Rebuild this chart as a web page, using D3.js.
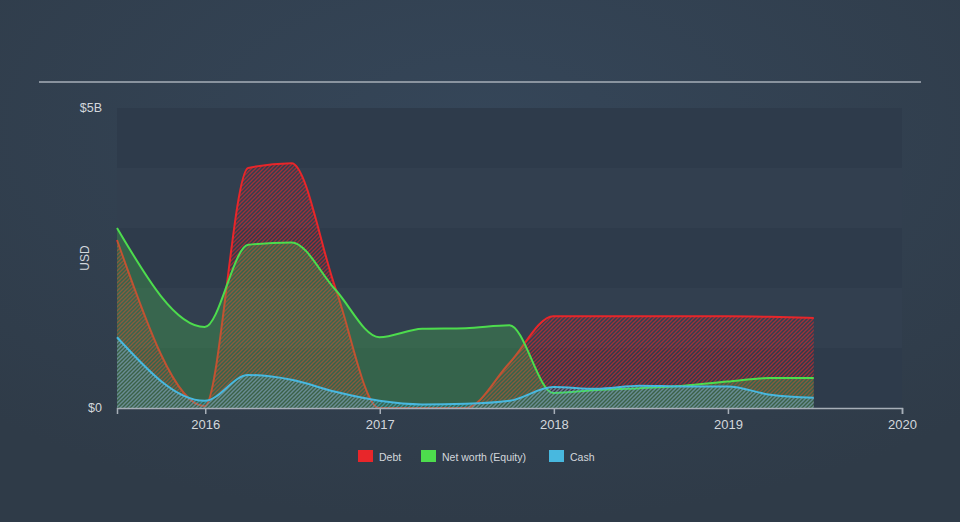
<!DOCTYPE html>
<html>
<head>
<meta charset="utf-8">
<script src="https://cdn.jsdelivr.net/npm/d3@7/dist/d3.min.js"></script>
<style>
html,body{margin:0;padding:0;background:#334253;}
svg{display:block;font-family:Arial,"Liberation Sans",sans-serif;}
</style>
</head>
<body>
<svg id="chart" width="960" height="522"></svg>
<script>
// ---- data ----
const dates = ["2015-06-30","2015-12-31","2016-03-31","2016-06-30","2016-09-30","2016-12-31","2017-03-31","2017-06-30","2017-09-30","2017-12-31","2018-03-31","2018-06-30","2018-09-30","2018-12-31","2019-03-31","2019-06-30"];
const debt   = [2.8, 0.03, 4.0, 4.08, 2.0, 0, 0, 0, 0.75, 1.53, 1.53, 1.53, 1.53, 1.53, 1.52, 1.50];
const equity = [3.0, 1.35, 2.72, 2.76, 1.97, 1.18, 1.32, 1.33, 1.38, 0.25, 0.3, 0.33, 0.37, 0.44, 0.5, 0.5];
const cash   = [1.18, 0.12, 0.55, 0.47, 0.27, 0.12, 0.06, 0.07, 0.12, 0.35, 0.32, 0.37, 0.36, 0.36, 0.22, 0.17];
const xTicks = ["2016","2017","2018","2019","2020"];
const yTickLabels = ["$0","$5B"];
const yTickValues = [0, 5];
const seriesNames = ["Debt","Net worth (Equity)","Cash"];
const seriesColors = ["#e8262a","#4ddc4d","#48b8df"];

const svg = d3.select("#chart");
const W = 960, H = 522;
const margin = {left:117, right:58, top:108, bottom:114};
const parse = d3.timeParse("%Y-%m-%d");

// background
const defs = svg.append("defs");
const rg = defs.append("radialGradient").attr("id","bg").attr("cx","50%").attr("cy","25%").attr("r","75%");
rg.append("stop").attr("offset","0%").attr("stop-color","#354659");
rg.append("stop").attr("offset","100%").attr("stop-color","#2f3b48");
svg.append("rect").attr("width",W).attr("height",H).attr("fill","url(#bg)");

function hatch(id, color, op){
  const p = defs.append("pattern").attr("id",id).attr("patternUnits","userSpaceOnUse")
    .attr("width",4).attr("height",4);
  p.append("path").attr("d","M-1,1 L1,-1 M0,4 L4,0 M3,5 L5,3")
    .attr("stroke",color).attr("stroke-width",1.3).attr("stroke-opacity",op).attr("fill","none");
}
hatch("hDebt", seriesColors[0], 0.6);
hatch("hCash", seriesColors[2], 0.55);

const x = d3.scaleTime().domain([parse("2015-06-30"), parse("2020-01-01")]).range([margin.left, W-margin.right]);
const y = d3.scaleLinear().domain([0,5]).range([H-margin.bottom, margin.top]);

// top rule
svg.append("line").attr("x1",39).attr("x2",921).attr("y1",82).attr("y2",82)
  .attr("stroke","#a7afb8").attr("stroke-width",1.5);

// bands
d3.range(0,5).forEach(i=>{
  svg.append("rect").attr("x",x.range()[0]).attr("width",x.range()[1]-x.range()[0])
    .attr("y",y(i+1)).attr("height",y(i)-y(i+1))
    .attr("fill", i%2===0 ? "#2e3b4b" : "#323f4f");
});

const data = dates.map((d,i)=>({date:parse(d), debt:debt[i], equity:equity[i], cash:cash[i]}));
const curve = d3.curveMonotoneX;

function drawSeries(key, fill, stroke, fillOpacity){
  const area = d3.area().x(d=>x(d.date)).y0(y(0)).y1(d=>y(d[key])).curve(curve);
  const line = d3.line().x(d=>x(d.date)).y(d=>y(d[key])).curve(curve);
  svg.append("path").datum(data).attr("d",area).attr("fill",fill).attr("fill-opacity",fillOpacity);
  svg.append("path").datum(data).attr("d",line).attr("fill","none").attr("stroke",stroke).attr("stroke-width",2);
}
drawSeries("debt","url(#hDebt)",seriesColors[0],1);
drawSeries("equity",seriesColors[1],seriesColors[1],0.25);
drawSeries("cash","url(#hCash)",seriesColors[2],1);

// x axis
const xAxis = d3.axisBottom(x)
  .tickValues(xTicks.map(t=>parse(t+"-01-01")))
  .tickFormat(d3.timeFormat("%Y")).tickSizeOuter(0).tickSize(6);
const gx = svg.append("g").attr("transform",`translate(0,${y(0)})`).call(xAxis);
gx.select(".domain").attr("stroke","#a7afb8").attr("stroke-width",1.5);
gx.selectAll(".tick line").attr("stroke","#a7afb8").attr("stroke-width",1.5);
gx.selectAll(".tick text").attr("fill","#d3d7dc").attr("font-size",13).attr("dy","0.9em")
  .attr("font-family","Arial, 'Liberation Sans', sans-serif");

// y labels
yTickValues.forEach((v,i)=>{
  svg.append("text").attr("x",102).attr("y",y(v)).attr("dy","0.35em").attr("text-anchor","end")
    .attr("fill","#d3d7dc").attr("font-size",12.5).text(yTickLabels[i]);
});
svg.append("text").attr("transform",`translate(89,${(y(0)+y(5))/2}) rotate(-90)`)
  .attr("text-anchor","middle").attr("fill","#d3d7dc").attr("font-size",12).text("USD");

// legend
const legendX = [358, 421, 549];
seriesNames.forEach((n,i)=>{
  svg.append("rect").attr("x",legendX[i]).attr("y",450).attr("width",15).attr("height",12).attr("fill",seriesColors[i]);
  svg.append("text").attr("x",legendX[i]+21).attr("y",460.5).attr("fill","#d3d7dc").attr("font-size",10.5).text(n);
});
</script>
</body>
</html>
